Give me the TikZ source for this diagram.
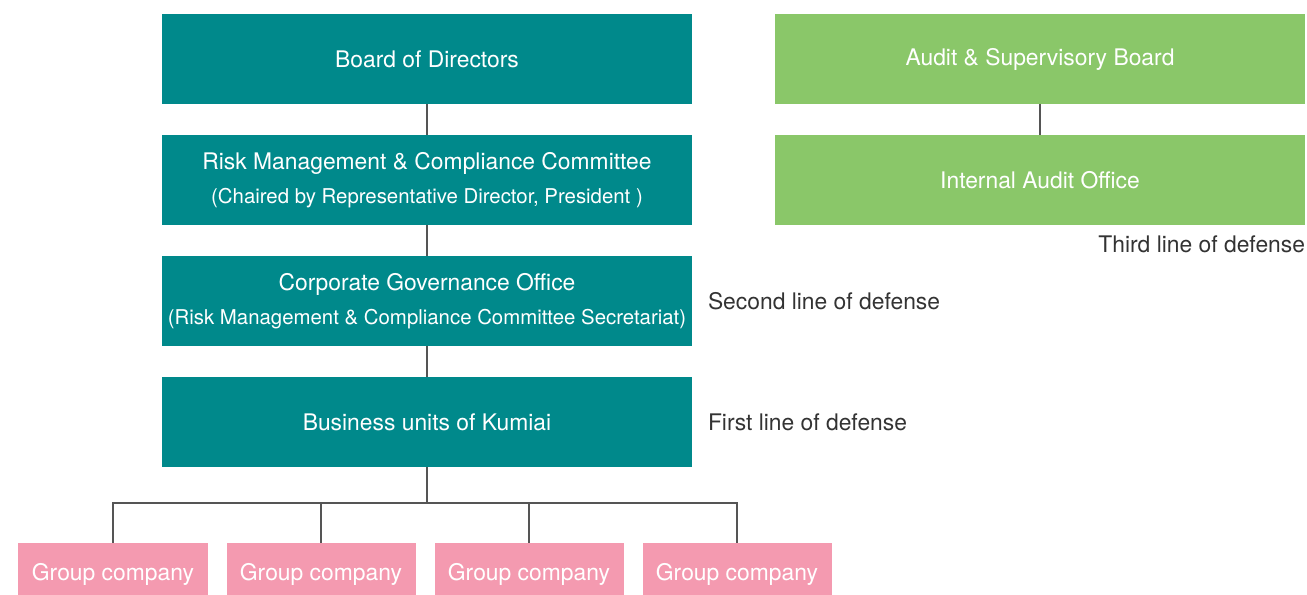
\documentclass[tikz,border=0pt]{standalone}
\usepackage{fontspec}
\setmainfont{TeX Gyre Heros}
\usetikzlibrary{positioning}

\definecolor{tealbox}{HTML}{00898B}
\definecolor{greenbox}{HTML}{8AC769}
\definecolor{pinkbox}{HTML}{F49AB0}
\definecolor{linegray}{HTML}{555555}
\definecolor{textgray}{HTML}{333333}

\newcommand{\boxfont}{\fontsize{13}{19.5}\selectfont}
\newcommand{\subline}[1]{{\fontsize{11.6}{19.5}\selectfont #1}}

\begin{document}
\begin{tikzpicture}[node distance=6.2mm and 16.6mm,
unit/.style={
% The shape:
rectangle,
fill=tealbox,
text=white,
minimum width=10.6cm,
minimum height=1.8cm,
inner sep=0pt,
outer sep=0pt,
align=center,
font=\boxfont
},
audit/.style={unit, fill=greenbox},
group/.style={
rectangle,
fill=pinkbox,
text=white,
minimum width=3.78cm,
minimum height=1.04cm,
text height=13.6pt,
text depth=0pt,
inner sep=0pt,
outer sep=0pt,
font=\boxfont
},
defense/.style={inner sep=0pt, outer sep=0pt, text=textgray, font=\boxfont},
link/.style={draw=linegray, line width=0.6pt}
]
\useasboundingbox (0,0) rectangle (26.14,-11.9);

% left column
\node (board) [unit] at (8.54,-1.18) {Board of Directors};
\node (risk) [unit, below=of board] {Risk Management \& Compliance Committee\\ \subline{(Chaired by Representative Director, President )}};
\node (cgo) [unit, below=of risk] {Corporate Governance Office\\ \subline{(Risk Management \& Compliance Committee Secretariat)}};
\node (bu) [unit, below=of cgo] {Business units of Kumiai};

% right column
\node (asb) [audit, right=of board] {Audit \& Supervisory Board};
\node (iao) [audit, below=of asb] {Internal Audit Office};

% lines of defense
\node (third) [defense, anchor=east] at ([yshift=-3.8mm]iao.south east) {Third line of defense};
\node (second) [defense, right=3.2mm of cgo] {Second line of defense};
\node (first) [defense, right=3.2mm of bu] {First line of defense};

\draw[link] (board) -- (risk) (risk) -- (cgo) (cgo) -- (bu);
\draw[link] (asb) -- (iao);

% group companies
\coordinate (bus) at ([yshift=-7.2mm]bu.south);
\draw[link] (bu.south) -- (bus);
\foreach \i/\x in {1/2.26, 2/6.42, 3/10.58, 4/14.74} {
  \node (g\i) [group] at (\x,-11.38) {Group company};
  \draw[link] (g\i.north) |- (bus);
}
\end{tikzpicture}
\end{document}
